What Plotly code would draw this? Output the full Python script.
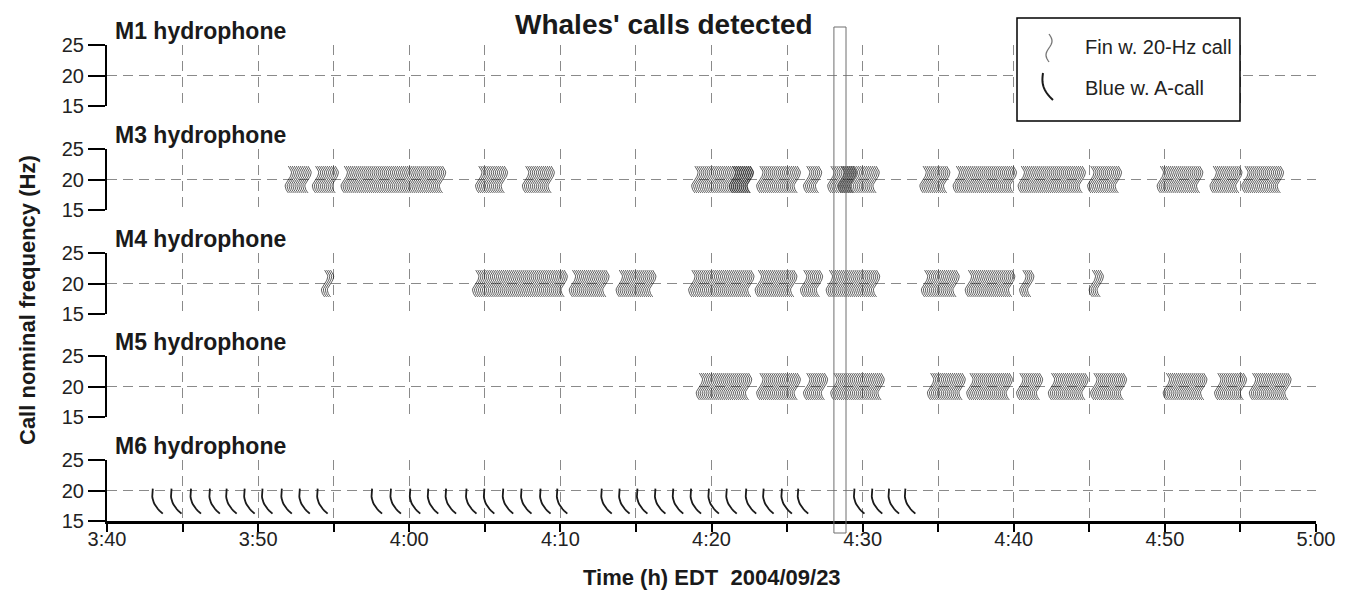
import numpy as np
import plotly.graph_objects as go
from plotly.subplots import make_subplots

# ---------------- data (times in minutes after midnight, EDT 2004/09/23) ----------------
PANEL_LABELS = ["M1 hydrophone", "M3 hydrophone", "M4 hydrophone", "M5 hydrophone", "M6 hydrophone"]

# Fin whale 20-Hz call bouts: (first call, last call) per hydrophone
FIN_BOUTS_M1 = []
FIN_BOUTS_M3 = [(232.0, 233.3), (233.8, 235.2), (235.7, 242.3), (244.6, 246.4), (247.7, 249.5),
                (258.9, 262.6), (261.4, 262.6), (263.2, 265.7), (266.3, 267.2), (267.9, 271.0),
                (268.6, 269.5), (274.0, 275.6), (276.2, 280.0), (280.5, 284.6), (285.1, 287.0),
                (289.7, 292.3), (293.2, 294.9), (295.3, 297.7)]
FIN_BOUTS_M4 = [(234.4, 234.9), (244.4, 250.3), (250.8, 253.1), (253.9, 256.2), (258.7, 262.6),
                (263.1, 265.5), (266.1, 267.2), (267.8, 271.0), (274.1, 276.3), (277.0, 279.9),
                (280.6, 281.2), (285.2, 285.8)]
FIN_BOUTS_M5 = [(259.2, 262.5), (263.2, 265.7), (266.3, 267.5), (268.1, 271.3), (274.5, 276.6),
                (277.1, 279.8), (280.4, 281.8), (282.5, 284.8), (285.3, 287.3), (290.1, 292.6),
                (293.5, 295.3), (295.8, 298.2)]
FIN_BOUTS_M6 = []
FIN_CALL_INTERVAL = 0.13  # minutes between successive 20-Hz pulses

# Blue whale A-calls (start times)
BLUE_CALLS_M1, BLUE_CALLS_M3, BLUE_CALLS_M4, BLUE_CALLS_M5 = [], [], [], []
BLUE_CALLS_M6 = [223.03, 224.27, 225.56, 226.81, 227.92, 229.11, 230.29, 231.57, 232.76, 233.94,
                 237.54, 238.79, 240.07, 241.26, 242.44, 243.79, 244.97, 246.22, 247.43, 248.69, 249.80,
                 252.74, 253.92, 255.10, 256.29, 257.47, 258.65, 259.83, 261.01, 262.30, 263.45,
                 264.66, 265.74,
                 269.46, 270.64, 271.75, 272.83]

TICK_VALUES = list(range(220, 301, 5))
TICK_LABELS = ["3:40", "", "3:50", "", "4:00", "", "4:10", "", "4:20", "", "4:30", "", "4:40", "",
               "4:50", "", "5:00"]
Y_TICKS = [15, 20, 25]
HIGHLIGHT = (268.1, 268.9)

FIN_BOUTS = [FIN_BOUTS_M1, FIN_BOUTS_M3, FIN_BOUTS_M4, FIN_BOUTS_M5, FIN_BOUTS_M6]
BLUE_CALLS = [BLUE_CALLS_M1, BLUE_CALLS_M3, BLUE_CALLS_M4, BLUE_CALLS_M5, BLUE_CALLS_M6]

# ---------------- glyph styles ----------------
FIN_TOP, FIN_BOT, FIN_AMP = 22.2, 17.8, 0.21
BLUE_TOP, BLUE_BOT, BLUE_W = 20.3, 16.2, 0.66
FIN_COLOR = "rgba(5,5,5,0.72)"
FONT = "Liberation Sans, Arial, sans-serif"

W, H = 1351, 591
ML, MR, MT, MB = 107, 35, 45, 70
PW, PH = W - ML - MR, H - MT - MB
PANEL_TOPS_PX = [45, 149, 253, 356, 460]
PANEL_H_PX = 61


def py2paper(py):
    return (H - MB - py) / PH


def px2paper(px):
    return (px - ML) / PW


u = np.linspace(0, 1, 17)


def fin_glyph_xy(bouts):
    xs, ys = [], []
    for a, b in bouts:
        for t in np.arange(a, b + 1e-6, FIN_CALL_INTERVAL):
            xs.extend(list(t + FIN_AMP * np.sin(2 * np.pi * u)) + [None])
            ys.extend(list(FIN_TOP - u * (FIN_TOP - FIN_BOT)) + [None])
    return xs, ys


def blue_glyph_xy(calls):
    xs, ys = [], []
    for t in calls:
        xs.extend(list(t - 0.08 * np.sin(np.pi * u) + BLUE_W * u ** 2.6) + [None])
        ys.extend(list(BLUE_TOP - u * (BLUE_TOP - BLUE_BOT)) + [None])
    return xs, ys


fig = make_subplots(rows=5, cols=1, shared_xaxes=True, vertical_spacing=0.05)

for i in range(5):
    row = i + 1
    # placeholder so that every hydrophone panel is drawn even without detections
    fig.add_trace(go.Scatter(x=[None], y=[None], mode="lines", hoverinfo="skip",
                             showlegend=False), row=row, col=1)
    for bout in FIN_BOUTS[i]:
        xs, ys = fin_glyph_xy([bout])
        fig.add_trace(go.Scatter(x=xs, y=ys, mode="lines",
                                 line=dict(color=FIN_COLOR, width=0.9),
                                 hoverinfo="skip", showlegend=False), row=row, col=1)
    if BLUE_CALLS[i]:
        xs, ys = blue_glyph_xy(BLUE_CALLS[i])
        fig.add_trace(go.Scatter(x=xs, y=ys, mode="lines",
                                 line=dict(color="#1a1a1a", width=1.8),
                                 hoverinfo="skip", showlegend=False), row=row, col=1)

grid = dict(showgrid=True, gridcolor="#8a8a8a", gridwidth=1, griddash="10px,6px", zeroline=False)

for i in range(5):
    top = py2paper(PANEL_TOPS_PX[i])
    bot = py2paper(PANEL_TOPS_PX[i] + PANEL_H_PX)
    yname = "yaxis" if i == 0 else f"yaxis{i+1}"
    fig.layout[yname].update(domain=[max(bot, 0), min(top, 1)], range=[15, 25], tickvals=Y_TICKS,
                             showline=True, linecolor="black", linewidth=2,
                             ticks="outside", ticklen=17, tickwidth=2, tickcolor="black",
                             tickfont=dict(family=FONT, size=20, color="#222"), **grid)

fig.update_xaxes(range=[220, 300], tickvals=TICK_VALUES, ticktext=TICK_LABELS, **grid)
for r in range(1, 5):
    fig.update_xaxes(showline=False, ticks="", showticklabels=False, row=r, col=1)
fig.update_xaxes(showline=True, linecolor="black", linewidth=3, ticks="outside", ticklen=8,
                 tickwidth=2, tickcolor="black", tickfont=dict(family=FONT, size=20, color="#222"),
                 ticklabelstandoff=-10, row=5, col=1)

annotations = []
for i, lab in enumerate(PANEL_LABELS):
    annotations.append(dict(text=f"<b>{lab}</b>", xref="paper", yref="paper",
                            x=px2paper(113), y=py2paper(PANEL_TOPS_PX[i] - 14),
                            xanchor="left", yanchor="middle", showarrow=False,
                            font=dict(family=FONT, size=23, color="#1a1a1a")))
annotations += [
    dict(text="<b>Whales' calls detected</b>", xref="paper", yref="paper",
         x=px2paper(664), y=py2paper(25), xanchor="center", yanchor="middle", showarrow=False,
         font=dict(family=FONT, size=28, color="#1a1a1a")),
    dict(text="<b>Call nominal frequency (Hz)</b>", xref="paper", yref="paper",
         x=px2paper(27), y=py2paper(300), xanchor="center", yanchor="middle", textangle=-90,
         showarrow=False, font=dict(family=FONT, size=22, color="#1a1a1a")),
    dict(text="<b>Time (h) EDT\u00a0\u00a02004/09/23</b>", xref="paper", yref="paper",
         x=px2paper(712), y=py2paper(577), xanchor="center", yanchor="middle", showarrow=False,
         font=dict(family=FONT, size=22, color="#1a1a1a")),
    dict(text="Fin w. 20-Hz call", xref="paper", yref="paper", x=px2paper(1083), y=py2paper(47),
         xanchor="left", yanchor="middle", showarrow=False,
         font=dict(family=FONT, size=20, color="#222")),
    dict(text="Blue w. A-call", xref="paper", yref="paper", x=px2paper(1083), y=py2paper(88),
         xanchor="left", yanchor="middle", showarrow=False,
         font=dict(family=FONT, size=20, color="#222")),
]

# legend glyph paths (paper coordinates)
uu = np.linspace(0, 1, 17)
fin_px = 1049 + 3 * np.sin(2 * np.pi * uu)
fin_py = 34 + 28 * uu
fin_path = "M " + " L ".join(f"{px2paper(a):.5f},{py2paper(b):.5f}" for a, b in zip(fin_px, fin_py))
blue_px = 1043 - 1.2 * np.sin(np.pi * uu) + 10 * uu ** 2.6
blue_py = 73 + 27 * uu
blue_path = "M " + " L ".join(f"{px2paper(a):.5f},{py2paper(b):.5f}" for a, b in zip(blue_px, blue_py))

shapes = [
    dict(type="rect", xref="x5", yref="paper", x0=HIGHLIGHT[0], x1=HIGHLIGHT[1],
         y0=py2paper(27), y1=py2paper(533), line=dict(color="#6e6e6e", width=1), layer="above"),
    dict(type="rect", xref="paper", yref="paper", x0=px2paper(1017), x1=px2paper(1240),
         y0=py2paper(121), y1=py2paper(18), fillcolor="white", line=dict(color="black", width=1.5),
         layer="above"),
    dict(type="path", xref="paper", yref="paper", path=fin_path,
         line=dict(color="rgba(25,25,25,0.6)", width=1.3), layer="above"),
    dict(type="path", xref="paper", yref="paper", path=blue_path,
         line=dict(color="#1a1a1a", width=2), layer="above"),
]

fig.update_layout(width=W, height=H, margin=dict(l=ML, r=MR, t=MT, b=MB),
                  plot_bgcolor="white", paper_bgcolor="white", showlegend=False,
                  annotations=annotations, shapes=shapes,
                  font=dict(family=FONT, color="#222"))

fig.write_html("out.html")
